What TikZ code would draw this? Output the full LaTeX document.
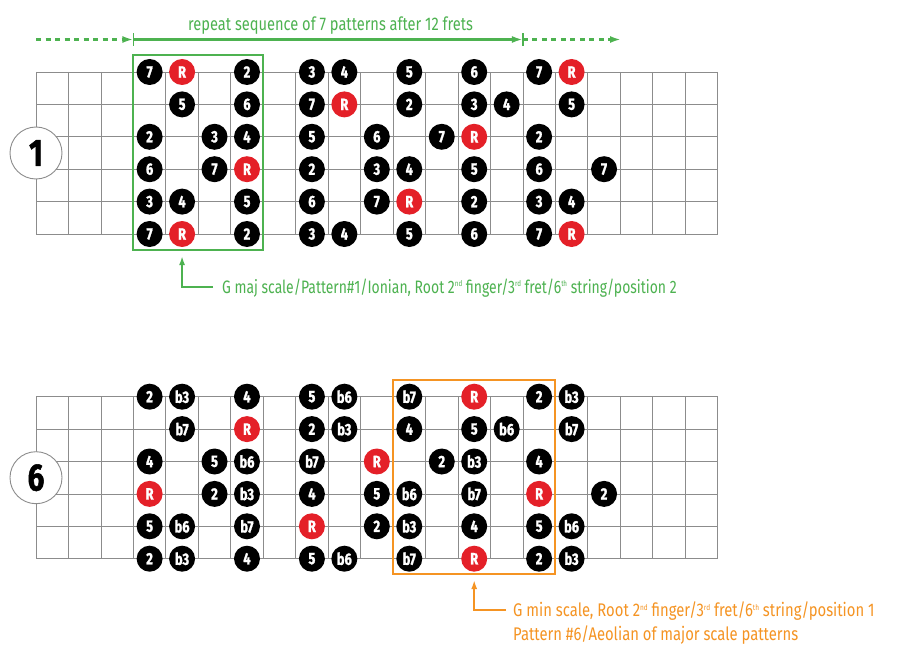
\documentclass[tikz,border=0pt]{standalone}
\usepackage{fontspec}
\setmainfont{Fira Sans}[FakeStretch=0.8]
\newfontfamily\dotfont{Fira Sans}[FakeStretch=0.78, BoldFeatures={FakeBold=1.3}]
\newfontfamily\annofont{Fira Sans}[FakeStretch=0.775]
\newfontfamily\orangefont{Fira Sans}[FakeStretch=0.81]
\usetikzlibrary{arrows.meta}
\definecolor{scgreen}{RGB}{77,178,80}
\definecolor{scorange}{RGB}{245,148,35}
\definecolor{scred}{RGB}{228,32,40}
\definecolor{scgrid}{RGB}{140,140,140}
\newcommand\sups[1]{\raisebox{0.65ex}{\fontsize{8}{8}\selectfont #1}}
\tikzset{
  gridline/.style={draw=scgrid, line width=0.8pt},
  dotnode/.style={circle, fill=black, minimum size=26pt, inner sep=0pt, text=white, font=\dotfont\bfseries\fontsize{16.5}{16.5}\selectfont},
  pt R/.style={fill=scred},
  numcircle/.style={circle, draw=scgrid, fill=white, line width=0.9pt, minimum size=52pt, inner sep=0pt, font=\dotfont\bfseries\fontsize{38}{38}\selectfont},
  greenline/.style={draw=scgreen, line width=2.4pt},
  orangeline/.style={draw=scorange, line width=2.2pt},
  tip/.style={-{Latex[length=11pt,width=7pt]}},
  smalltip/.style={-{Latex[length=9pt,width=6pt]}},
  greentext/.style={text=scgreen, font=\fontsize{18.3}{20}\selectfont, inner sep=0pt},
  annotext/.style={text=scgreen, font=\annofont\fontsize{18}{20}\selectfont, inner sep=0pt},
  orangetext/.style={text=scorange, font=\orangefont\fontsize{18.3}{20}\selectfont, inner sep=0pt},
}
\begin{document}
\begin{tikzpicture}[x=1pt,y=-1pt]
\useasboundingbox[fill=white] (0,0) rectangle (900,666);
\def\fx{32.46}
\def\sy{32.4}
% ---------- fretboards ----------
\foreach \top in {72,396.7}{
  \foreach \k in {0,...,21}
    \draw[gridline] (36+\fx*\k,\top) -- (36+\fx*\k,\top+5*\sy);
  \foreach \s in {0,...,5}
    \draw[gridline] (36,\top+\sy*\s) -- (36+21*\fx,\top+\sy*\s);
}
% ---------- boxes ----------
\draw[greenline, line width=2pt] (36+3*\fx,55) rectangle (36+7*\fx,250);
\draw[orangeline] (36+11*\fx,380) rectangle (36+16*\fx,574);
% ---------- pattern 1 dots ----------
\foreach \s/\row in {
  0/{3/7,4/R,6/2,8/3,9/4,11/5,13/6,15/7,16/R},
  1/{4/5,6/6,8/7,9/R,11/2,13/3,14/4,16/5},
  2/{3/2,5/3,6/4,8/5,10/6,12/7,13/R,15/2},
  3/{3/6,5/7,6/R,8/2,10/3,11/4,13/5,15/6,17/7},
  4/{3/3,4/4,6/5,8/6,10/7,11/R,13/2,15/3,16/4},
  5/{3/7,4/R,6/2,8/3,9/4,11/5,13/6,15/7,16/R}}{
  \foreach \j/\t in \row
    \node[dotnode, pt \t/.try] (a-\s-\j) at (36+\fx*\j+\fx/2, 72+\sy*\s) {\t};
}
% ---------- pattern 6 dots ----------
\foreach \s/\row in {
  0/{3/2,4/b3,6/4,8/5,9/b6,11/b7,13/R,15/2,16/b3},
  1/{4/b7,6/R,8/2,9/b3,11/4,13/5,14/b6,16/b7},
  2/{3/4,5/5,6/b6,8/b7,10/R,12/2,13/b3,15/4},
  3/{3/R,5/2,6/b3,8/4,10/5,11/b6,13/b7,15/R,17/2},
  4/{3/5,4/b6,6/b7,8/R,10/2,11/b3,13/4,15/5,16/b6},
  5/{3/2,4/b3,6/4,8/5,9/b6,11/b7,13/R,15/2,16/b3}}{
  \foreach \j/\t in \row
    \node[dotnode, pt \t/.try] (b-\s-\j) at (36+\fx*\j+\fx/2, 396.7+\sy*\s) {\t};
}
% ---------- pattern number circles ----------
\node[numcircle] (n1) at (36,153) {1};
\node[numcircle] (n6) at (36,477.7) {6};
% ---------- repeat arrow ----------
\coordinate (r0) at (36,39.5);
\coordinate (r1) at (36+3*\fx,39.5);
\coordinate (r2) at (36+15*\fx,39.5);
\coordinate (r3) at (621,39.5);
\draw[greenline, tip, dash pattern=on 5pt off 4.5pt] (r0) -- (r1);
\draw[greenline, tip] (r1) -- (r2);
\draw[greenline, tip, dash pattern=on 5pt off 4.5pt] (r2) -- (r3);
\draw[greenline, line width=1.6pt] ([yshift=-6.5pt]r1) -- ([yshift=6.5pt]r1);
\draw[greenline, line width=1.6pt] ([yshift=-6.5pt]r2) -- ([yshift=6.5pt]r2);
\node[greentext, anchor=base west] (rep) at (188,31) {repeat sequence of 7 patterns after 12 frets};
% ---------- annotations ----------
\node[annotext, anchor=base west] (ann1) at (222,293)
  {G maj scale/Pattern\#1/Ionian, Root 2\sups{nd} finger/3\sups{rd} fret/6\sups{th} string/position 2};
\coordinate (ann1tip) at (36+4.5*\fx,256);
\draw[greenline, line width=1.8pt, smalltip] ([xshift=-9pt]ann1.west |- 0,287) -- (ann1tip |- 0,287) -- (ann1tip);
\node[orangetext, anchor=base west] (ann2) at (513,616.5)
  {G min scale, Root 2\sups{nd} finger/3\sups{rd} fret/6\sups{th} string/position 1};
\node[orangetext, anchor=base west] (ann2b) at (513,640.5)
  {Pattern \#6/Aeolian of major scale patterns};
\coordinate (ann2tip) at (36+13.5*\fx,580);
\draw[orangeline, line width=1.8pt, smalltip] ([xshift=-7pt]ann2.west |- 0,610) -- (ann2tip |- 0,610) -- (ann2tip);
\end{tikzpicture}
\end{document}
